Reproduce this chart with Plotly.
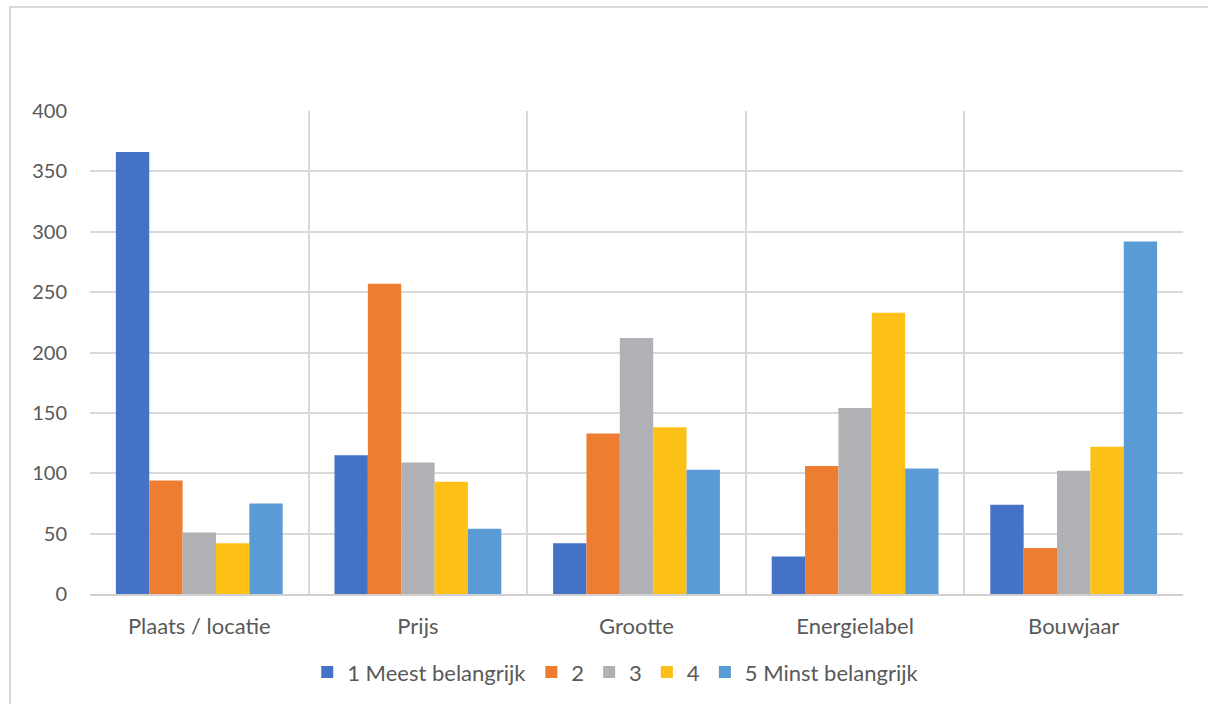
import plotly.graph_objects as go

# Ranking of housing criteria: number of respondents per rank
categories = ["Plaats / locatie", "Prijs", "Grootte", "Energielabel", "Bouwjaar"]
series_names = ["1 Meest belangrijk", "2", "3", "4", "5 Minst belangrijk"]
rank1 = [366, 115, 42, 31, 74]
rank2 = [94, 257, 133, 106, 38]
rank3 = [51, 109, 212, 154, 102]
rank4 = [42, 93, 138, 233, 122]
rank5 = [75, 54, 103, 104, 292]
y_ticks = [0, 50, 100, 150, 200, 250, 300, 350, 400]

colors = ["#4472C4", "#ED7D31", "#B0B1B4", "#FCC016", "#5B9BD5"]
values = [rank1, rank2, rank3, rank4, rank5]

FONT = "Lato, Open Sans, sans-serif"
TEXT = "#595959"

fig = go.Figure()
for name, vals, col in zip(series_names, values, colors):
    fig.add_trace(go.Bar(
        x=categories, y=vals, name=name,
        marker=dict(color=col, line=dict(width=0)),
    ))

fig.update_layout(
    width=1208, height=704,
    margin=dict(l=90, r=25, t=111, b=110, autoexpand=False),
    paper_bgcolor="white", plot_bgcolor="white",
    barmode="group", bargap=0.237, bargroupgap=0,
    font=dict(family=FONT, color=TEXT, size=22),
    showlegend=True,
    legend=dict(orientation="h", x=0.481, xanchor="center", y=-0.162, yanchor="middle",
                font=dict(size=22, color=TEXT), itemwidth=30, traceorder="normal"),
    xaxis=dict(type="category", tickson="boundaries", showgrid=True, automargin=False,
               gridcolor="#D9D9D9", gridwidth=2, ticks="", showline=True,
               linecolor="#D0D0D0", linewidth=2, mirror=False,
               tickfont=dict(size=22, color=TEXT), ticklabelstandoff=12),
    yaxis=dict(range=[0, 400], tickvals=y_ticks, showgrid=True, automargin=False,
               gridcolor="#D9D9D9", gridwidth=2, zeroline=False,
               showline=False, ticks="", tickfont=dict(size=20, color=TEXT),
               ticklabelstandoff=22),
)

# Outer chart-area frame
fig.add_shape(type="rect", xref="paper", yref="paper",
              x0=-0.0732, x1=1.1, y0=-0.3, y1=1.2153,
              line=dict(color="#D9D9D9", width=2), layer="below")

fig.write_html("out.html")
